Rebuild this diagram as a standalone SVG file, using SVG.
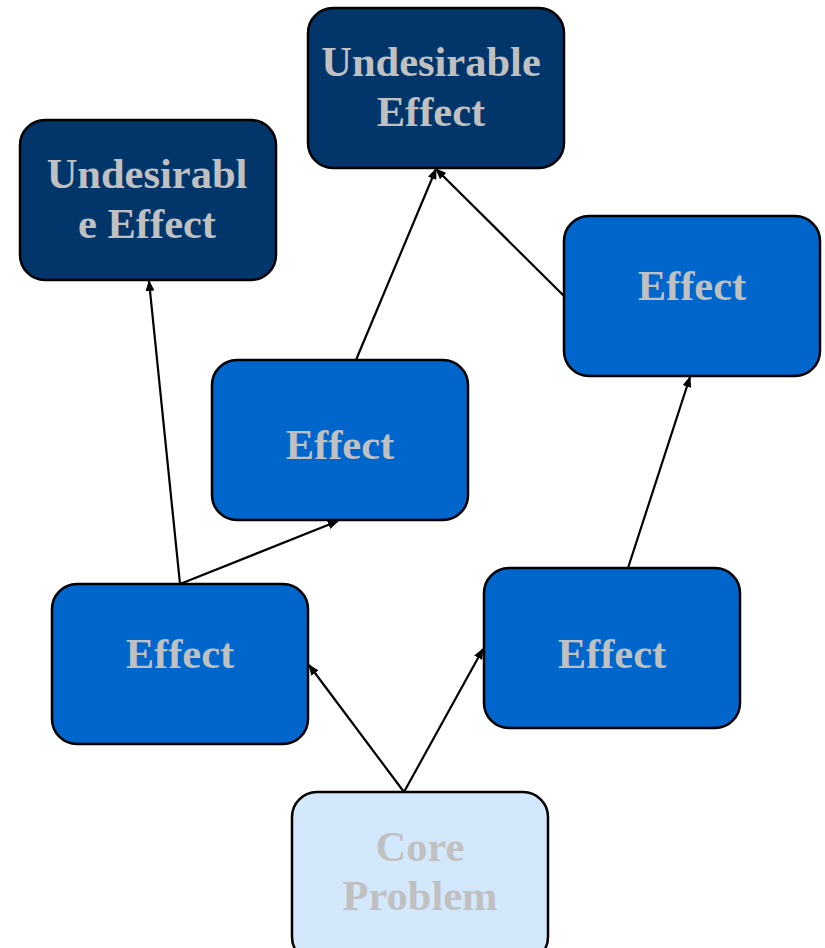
<svg xmlns="http://www.w3.org/2000/svg" width="825" height="948" viewBox="0 0 825 948">
<defs>
<style>
.box{stroke:#000;stroke-width:2.5}
.ue{fill:#02356A}
.ef{fill:#0066CC}
.cp{fill:#D4E8FC}
text{font-family:"Liberation Serif","Times New Roman",serif;font-weight:bold;font-size:42.5px;fill:#C0C0C0;text-anchor:middle}
.c line{stroke:#000;stroke-width:2.2;marker-end:url(#ah)}
</style>
<marker id="ah" markerWidth="11" markerHeight="9" refX="10" refY="4.5" orient="auto" markerUnits="userSpaceOnUse">
<path d="M0,0 L11,4.5 L0,9 Z" fill="#000"/>
</marker>
</defs>
<rect width="825" height="948" fill="#fff"/>
<g class="c" id="connectors">
<line x1="180" y1="584" x2="149" y2="281"/>
<line x1="180" y1="584" x2="338" y2="521"/>
<line x1="356" y1="360" x2="436" y2="169"/>
<line x1="564" y1="296" x2="436" y2="169"/>
<line x1="628" y1="568" x2="690" y2="377"/>
<line x1="404" y1="792" x2="309" y2="665"/>
<line x1="404" y1="792" x2="483" y2="649"/>
</g>
<g id="ue-top"><rect class="box ue" x="308" y="8" width="256" height="160" rx="25"/><text x="431" y="76">Undesirable</text><text x="431" y="126">Effect</text></g>
<g id="ue-left"><rect class="box ue" x="20" y="120" width="256" height="160" rx="25"/><text x="147" y="188">Undesirabl</text><text x="147" y="238">e Effect</text></g>
<g id="effect-rt"><rect class="box ef" x="564" y="216" width="256" height="160" rx="25"/><text x="692" y="300">Effect</text></g>
<g id="effect-mid"><rect class="box ef" x="212" y="360" width="256" height="160" rx="25"/><text x="340" y="459">Effect</text></g>
<g id="effect-left"><rect class="box ef" x="52" y="584" width="256" height="160" rx="25"/><text x="180" y="668">Effect</text></g>
<g id="effect-right"><rect class="box ef" x="484" y="568" width="256" height="160" rx="25"/><text x="612" y="668">Effect</text></g>
<g id="core"><rect class="box cp" x="292" y="792" width="256" height="170" rx="25"/><text x="420" y="861">Core</text><text x="420" y="910">Problem</text></g>
</svg>
